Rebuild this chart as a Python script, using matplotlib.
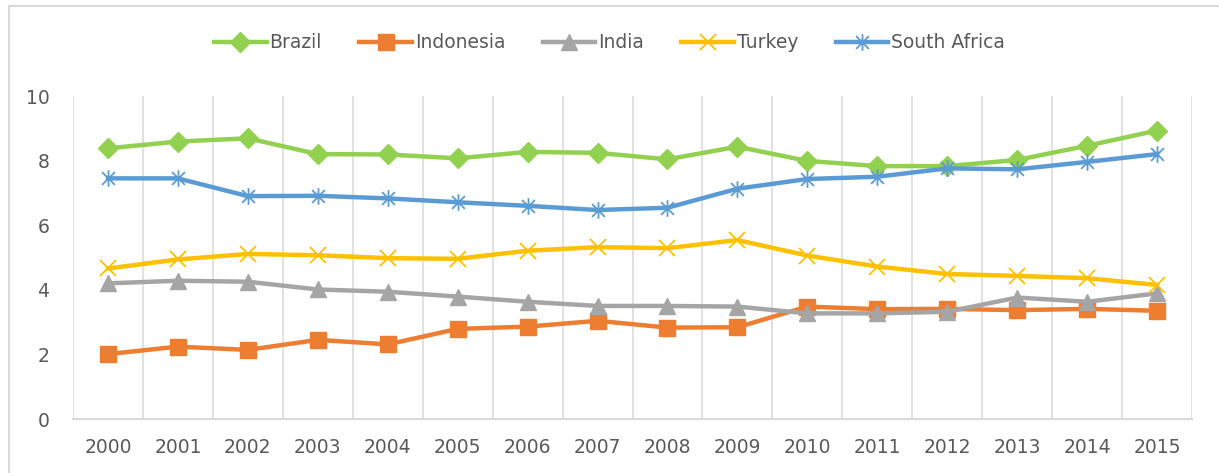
import matplotlib.pyplot as plt
from matplotlib.path import Path
from matplotlib.patches import Rectangle

# Dados
anos = ['2000', '2001', '2002', '2003', '2004', '2005', '2006', '2007',
        '2008', '2009', '2010', '2011', '2012', '2013', '2014', '2015']
brazil = [8.38, 8.59, 8.69, 8.20, 8.19, 8.07, 8.27, 8.24,
          8.04, 8.43, 7.99, 7.83, 7.83, 8.02, 8.46, 8.93]
indonesia = [2.01, 2.24, 2.14, 2.45, 2.31, 2.79, 2.86, 3.04,
             2.83, 2.84, 3.48, 3.40, 3.41, 3.37, 3.41, 3.35]
india = [4.20, 4.28, 4.25, 4.01, 3.94, 3.79, 3.63, 3.50,
         3.50, 3.48, 3.27, 3.27, 3.32, 3.76, 3.63, 3.89]
turkey = [4.66, 4.94, 5.11, 5.07, 4.98, 4.96, 5.21, 5.32,
          5.29, 5.54, 5.06, 4.72, 4.49, 4.43, 4.36, 4.15]
south_africa = [7.45, 7.45, 6.90, 6.91, 6.83, 6.71, 6.60, 6.47,
                6.54, 7.13, 7.43, 7.50, 7.76, 7.73, 7.96, 8.20]

# Marcador asterisco estilo Excel (x + linha vertical)
asterisco = Path([(-1, -1), (1, 1), (-1, 1), (1, -1), (0, -1.3), (0, 1.3)],
                 [Path.MOVETO, Path.LINETO, Path.MOVETO, Path.LINETO, Path.MOVETO, Path.LINETO])

fig = plt.figure(figsize=(12.19, 4.73), dpi=100)
ax = fig.add_axes([73 / 1219, 54 / 473, (1192 - 73) / 1219, (419 - 96) / 473])

# Borda do gráfico (cortada à direita e embaixo)
fig.patches.append(Rectangle((9 / 1219, -0.1), 1.2, 1 - 6 / 473 + 0.1, transform=fig.transFigure,
                             fill=False, edgecolor='#D9D9D9', linewidth=1.5))

x = list(range(len(anos)))
series = [
    ('Brazil', brazil, '#92D050', dict(marker='D', markersize=10)),
    ('Indonesia', indonesia, '#ED7D31', dict(marker='s', markersize=11)),
    ('India', india, '#A5A5A5', dict(marker='^', markersize=11)),
    ('Turkey', turkey, '#FFC000', dict(marker='x', markersize=11, markeredgewidth=1.3)),
    ('South Africa', south_africa, '#5B9BD5', dict(marker=asterisco, markersize=12, markeredgewidth=1.3)),
]
for nome, valores, cor, estilo in series:
    ax.plot(x, valores, color=cor, linewidth=3.2, label=nome,
            markerfacecolor=cor, markeredgecolor=cor, **estilo)

ax.set_xlim(-0.5, 15.5)
ax.set_ylim(0, 10)
ax.set_yticks([0, 2, 4, 6, 8, 10])
ax.set_xticks(x)
ax.set_xticklabels(anos)
ax.set_xticks([i + 0.5 for i in range(-1, 16)], minor=True)
ax.grid(True, which='minor', axis='x', color='#D9D9D9', linewidth=1.1)
ax.tick_params(axis='both', which='both', length=0, colors='#595959', labelsize=13.5)
ax.tick_params(axis='x', pad=14)
ax.tick_params(axis='y', pad=17)
for lado in ['top', 'right', 'left']:
    ax.spines[lado].set_visible(False)
ax.spines['bottom'].set_color('#D9D9D9')
ax.spines['bottom'].set_linewidth(1.5)

fig.legend(loc='center', bbox_to_anchor=(0.5, 1 - 43 / 473), ncol=5, frameon=False,
           fontsize=13.5, handlelength=2.8, columnspacing=2.0, handletextpad=0.15, labelcolor='#595959')

fig.savefig('out.png', dpi=100)
